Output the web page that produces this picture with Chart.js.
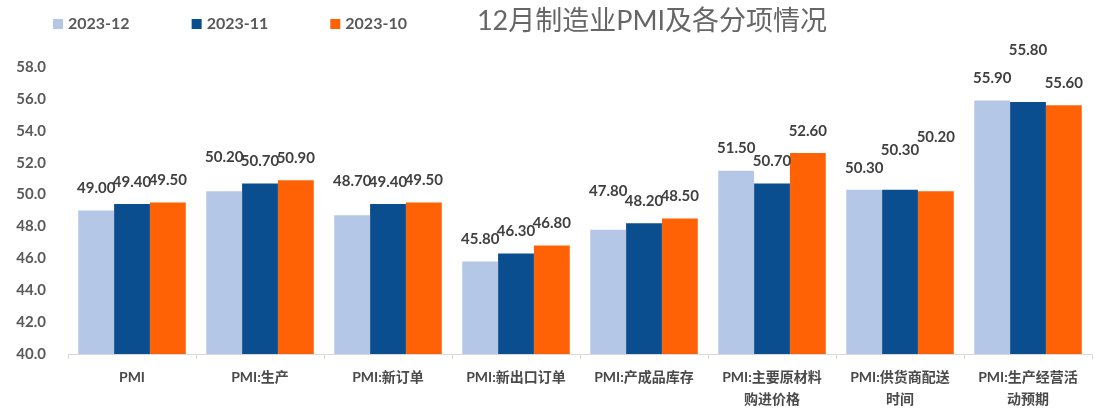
<!DOCTYPE html>
<html>
<head>
<meta charset="utf-8">
<script src="https://cdn.jsdelivr.net/npm/chart.js@4.4.0/dist/chart.umd.min.js"></script>
<style>
    html, body { margin: 0; padding: 0; background: #ffffff; }
    #wrap { width: 1098px; height: 412px; position: relative; }
</style>
</head>
<body>
<div id="wrap"><canvas id="pmiChart"></canvas></div>
<script>
// chart data
const categories = [
    'PMI',
    'PMI:生产',
    'PMI:新订单',
    'PMI:新出口订单',
    'PMI:产成品库存',
    ['PMI:主要原材料', '购进价格'],
    ['PMI:供货商配送', '时间'],
    ['PMI:生产经营活', '动预期']
];
const seriesNames = ['2023-12', '2023-11', '2023-10'];
const dec2023 = [49.0, 50.2, 48.7, 45.8, 47.8, 51.5, 50.3, 55.9];
const nov2023 = [49.4, 50.7, 49.4, 46.3, 48.2, 50.7, 50.3, 55.8];
const oct2023 = [49.5, 50.9, 49.5, 46.8, 48.5, 52.6, 50.2, 55.6];
const yTicks = [40, 42, 44, 46, 48, 50, 52, 54, 56, 58];

const FONT = 'Lato, "Noto Sans CJK SC", sans-serif';
const colors = ['#b4c7e7', '#0b4e8f', '#ff6205'];

// value labels above bars
const valueLabels = {
    id: 'valueLabels',
    afterDatasetsDraw(chart, args, opts) {
        const ctx = chart.ctx;
        ctx.save();
        ctx.font = 'bold 15px ' + FONT;
        ctx.fillStyle = '#404040';
        ctx.textAlign = 'center';
        ctx.textBaseline = 'middle';
        chart.data.datasets.forEach(function(ds, di) {
            chart.getDatasetMeta(di).data.forEach(function(bar, i) {
                const lift = opts.lift[i + '-' + di] || 0;
                ctx.fillText(ds.data[i].toFixed(2), bar.x, bar.y - opts.offset - lift);
            });
        });
        ctx.restore();
    }
};

// legend + title on the same row
const headerRow = {
    id: 'headerRow',
    afterDraw(chart) {
        const ctx = chart.ctx;
        ctx.save();
        ctx.textBaseline = 'middle';
        ctx.font = 'bold 16px ' + FONT;
        let x = 53;
        chart.data.datasets.forEach(function(ds) {
            ctx.fillStyle = ds.backgroundColor;
            ctx.fillRect(x, 19, 10, 10);
            ctx.fillStyle = '#595959';
            ctx.textAlign = 'left';
            ctx.fillText(ds.label, x + 15, 24);
            x += 15 + ctx.measureText(ds.label).width + 62;
        });
        ctx.font = '27px ' + FONT;
        ctx.fillStyle = '#666666';
        ctx.textAlign = 'center';
        ctx.fillText('12月制造业PMI及各分项情况', 652, 21);
        ctx.restore();
    }
};

const ctx = document.getElementById('pmiChart').getContext('2d');
const pmiChart = new Chart(ctx, {
    type: 'bar',
    data: {
        labels: categories,
        datasets: [
            { label: seriesNames[0], data: dec2023, backgroundColor: colors[0] },
            { label: seriesNames[1], data: nov2023, backgroundColor: colors[1] },
            { label: seriesNames[2], data: oct2023, backgroundColor: colors[2] }
        ]
    },
    options: {
        responsive: true,
        maintainAspectRatio: false,
        animation: false,
        layout: {
            padding: { top: 67, right: 6, left: 0, bottom: 0 }
        },
        datasets: {
            bar: {
                categoryPercentage: 0.84,
                barPercentage: 1.0,
                borderWidth: 0
            }
        },
        plugins: {
            legend: { display: false },
            title: { display: false },
            tooltip: { enabled: false },
            valueLabels: {
                offset: 22,
                lift: { '1-0': 12, '2-0': 12, '4-0': 16, '6-1': 18, '6-2': 32, '7-1': 30 }
            }
        },
        scales: {
            x: {
                grid: {
                    display: true,
                    drawOnChartArea: false,
                    drawTicks: true,
                    tickLength: 5,
                    color: '#d9d9d9'
                },
                border: { display: true, color: '#d9d9d9' },
                ticks: {
                    color: '#4a4a4a',
                    padding: 7,
                    maxRotation: 0,
                    autoSkip: false,
                    font: { family: FONT, size: 14, weight: 'bold', lineHeight: 1.6 }
                },
                afterFit: function(scale) { scale.height = 58; }
            },
            y: {
                min: 40,
                max: 58,
                afterBuildTicks: function(scale) {
                    scale.ticks = yTicks.map(function(v) { return { value: v }; });
                },
                grid: { display: false, drawTicks: false },
                border: { display: false },
                ticks: {
                    color: '#595959',
                    padding: 22,
                    font: { family: FONT, size: 15, weight: 'bold' },
                    callback: function(value) { return Number(value).toFixed(1); }
                },
                afterFit: function(scale) { scale.width = 68; }
            }
        }
    },
    plugins: [valueLabels, headerRow]
});
</script>
</body>
</html>
